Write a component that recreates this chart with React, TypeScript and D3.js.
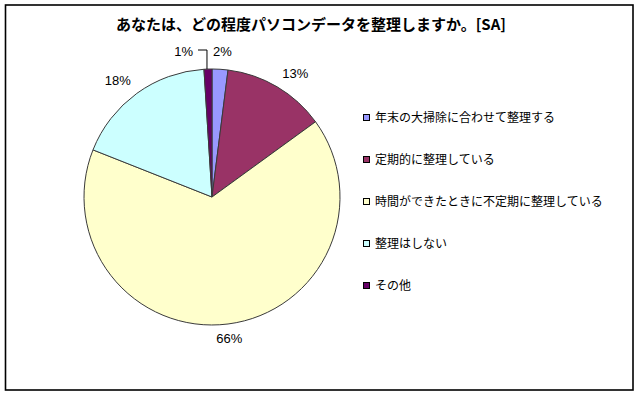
import { useRef, useEffect } from "react";
import * as d3 from "d3";

const title = "あなたは、どの程度パソコンデータを整理しますか。[SA]";
const categories = [
  "年末の大掃除に合わせて整理する",
  "定期的に整理している",
  "時間ができたときに不定期に整理している",
  "整理はしない",
  "その他",
];
const values = [2, 13, 66, 18, 1];
const colors = ["#9999FF", "#993366", "#FFFFCC", "#CCFFFF", "#660066"];

function App() {
  const svgRef = useRef<SVGSVGElement>(null);

  useEffect(() => {
    const w = 640;
    const h = 399;
    const svg = d3.select(svgRef.current).attr("width", w).attr("height", h);
    svg.selectAll("*").remove();

    svg.append("rect").attr("width", w).attr("height", h).attr("fill", "#fff");

    // outer frame
    svg
      .append("rect")
      .attr("x", 5.5)
      .attr("y", 5)
      .attr("width", 627.5)
      .attr("height", 385)
      .attr("fill", "none")
      .attr("stroke", "#000")
      .attr("stroke-width", 1.6);

    svg
      .append("text")
      .attr("x", 311)
      .attr("y", 30)
      .attr("text-anchor", "middle")
      .attr("font-family", "'Noto Sans CJK JP', sans-serif")
      .attr("font-weight", "bold")
      .attr("font-size", 15)
      .text(title);

    // pie
    const cx = 212;
    const cy = 197;
    const r = 128;
    const data = values.map((v, i) => ({ v, i }));
    const pie = d3.pie<{ v: number; i: number }>().value((d) => d.v).sort(null);
    const arcs = pie(data);
    const arc = d3.arc<d3.PieArcDatum<{ v: number; i: number }>>().innerRadius(0).outerRadius(r);

    const g = svg.append("g").attr("transform", `translate(${cx},${cy})`);
    g.selectAll("path")
      .data(arcs)
      .join("path")
      .attr("d", arc)
      .attr("fill", (d) => colors[d.data.i])
      .attr("stroke", "#3a3a3a")
      .attr("stroke-width", 1);

    // labels
    const lab = g.append("g").attr("font-family", "'Liberation Sans', Arial, sans-serif").attr("font-size", 13).attr("fill", "#000");
    arcs.forEach((a) => {
      const mid = (a.startAngle + a.endAngle) / 2;
      const s = Math.sin(mid);
      const c = -Math.cos(mid);
      const txt = `${a.data.v}%`;
      if (a.data.v < 3) {
        // small slices: labels above the pie, leader for the left one
        const ly = -r - 19;
        const left = s < 0;
        const tx = left ? -19 : 1;
        lab
          .append("text")
          .attr("x", tx)
          .attr("y", ly + 6)
          .attr("text-anchor", left ? "end" : "start")
          .text(txt);
        if (left) {
          const px = r * s - 1;
          const py = r * c;
          g.append("path")
            .attr("d", `M${tx + 5},${ly} H${px} V${py}`)
            .attr("fill", "none")
            .attr("stroke", "#000")
            .attr("stroke-width", 1);
        }
        return;
      }
      const lr = r + 10;
      const x = lr * s;
      const y = lr * c + 5 * c + 4;
      lab
        .append("text")
        .attr("x", x)
        .attr("y", y)
        .attr("text-anchor", s > 0.3 ? "start" : s < -0.3 ? "end" : "middle")
        .text(txt);
    });

    // legend
    const legend = svg
      .append("g")
      .attr("font-family", "'Noto Sans CJK JP', sans-serif")
      .attr("font-size", 12);
    const ly = d3.scalePoint<string>().domain(categories).range([118, 286]);
    categories.forEach((cat, i) => {
      const y = ly(cat)!;
      legend
        .append("rect")
        .attr("x", 363.5)
        .attr("y", y - 3.5)
        .attr("width", 6)
        .attr("height", 6)
        .attr("fill", colors[i])
        .attr("stroke", "#000")
        .attr("stroke-width", 1);
      legend
        .append("text")
        .attr("x", 375)
        .attr("y", y + 4)
        .text(cat);
    });
  }, []);

  return <svg ref={svgRef} style={{ position: "absolute", left: 0, top: 0 }}></svg>;
}

export default App;
